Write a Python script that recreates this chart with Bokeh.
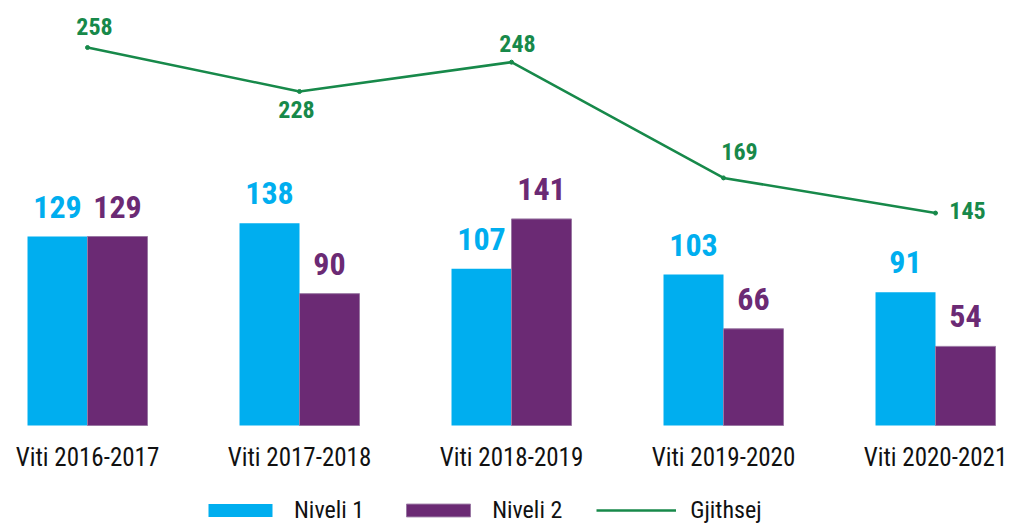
from bokeh.plotting import figure
from bokeh.models import ColumnDataSource, Range1d, FixedTicker, LabelSet, Legend, LegendItem
from bokeh.core.properties import value
from bokeh.embed import file_html
from bokeh.resources import INLINE

# ---- data ----
years = ["Viti 2016-2017", "Viti 2017-2018", "Viti 2018-2019", "Viti 2019-2020", "Viti 2020-2021"]
niveli1 = [129, 138, 107, 103, 91]
niveli2 = [129, 90, 141, 66, 54]
gjithsej = [258, 228, 248, 169, 145]

# ---- style ----
FONT = "Roboto Condensed"
C1 = "#00AEEF"
C2 = "#6B2A74"
CG = "#17894A"
BW = 0.283

idx = list(range(len(years)))
x1 = [i - BW / 2 for i in idx]
x2 = [i + BW / 2 for i in idx]

src1 = ColumnDataSource(dict(x=x1, top=niveli1, lab=[str(v) for v in niveli1]))
src2 = ColumnDataSource(dict(x=x2, top=niveli2, lab=[str(v) for v in niveli2]))
# label offsets for the total line (layout only)
xo = [7, -3, 6, 16, 32]
yo = [13, -27, 10, 18, -6]
srcg = ColumnDataSource(dict(x=idx, y=gjithsej, lab=[str(v) for v in gjithsej], xo=xo, yo=yo))

p = figure(frame_width=1014, frame_height=524, output_backend="svg", toolbar_location=None,
           x_range=Range1d(-0.4104, 4.3726), y_range=Range1d(-67.58, 290.1),
           y_axis_type=None, min_border=0, min_border_left=0, min_border_right=0,
           min_border_top=0, min_border_bottom=0)
p.outline_line_color = None
p.xgrid.visible = False
p.background_fill_color = "white"

r1 = p.vbar(x="x", top="top", bottom=0, width=BW, source=src1, fill_color=C1, line_color=None)
r2 = p.vbar(x="x", top="top", bottom=0, width=BW, source=src2, fill_color=C2, line_color="#9a78a3", line_width=1)
rl = p.line(x="x", y="y", source=srcg, line_color=CG, line_width=2.5)
p.scatter(x="x", y="y", source=srcg, size=4, fill_color=CG, line_color=CG)

lab_kw = dict(text_font=value(FONT), text_font_style="bold", text_align="center", text_baseline="alphabetic")
p.add_layout(LabelSet(x="x", y="top", text="lab", source=src1, y_offset=19,
                      text_color=C1, text_font_size="32px", **lab_kw))
p.add_layout(LabelSet(x="x", y="top", text="lab", source=src2, y_offset=19,
                      text_color=C2, text_font_size="32px", **lab_kw))
p.add_layout(LabelSet(x="x", y="y", text="lab", source=srcg, x_offset="xo", y_offset="yo",
                      text_color=CG, text_font_size="24px", **lab_kw))

ax = p.xaxis[0]
ax.fixed_location = 0
ax.ticker = FixedTicker(ticks=idx)
ax.major_label_overrides = {i: years[i] for i in idx}
ax.axis_line_color = None
ax.major_tick_line_color = None
ax.minor_tick_line_color = None
ax.major_tick_out = 0
ax.major_tick_in = 0
ax.major_label_standoff = 18
ax.major_label_text_font = FONT
ax.major_label_text_font_size = "25px"
ax.major_label_text_color = "#111111"

legend = Legend(items=[LegendItem(label="Niveli 1", renderers=[r1]),
                       LegendItem(label="Niveli 2", renderers=[r2]),
                       LegendItem(label="Gjithsej", renderers=[rl])],
                orientation="horizontal", location=(200, 0),
                glyph_width=80, glyph_height=16, label_standoff=14, spacing=34,
                padding=0, margin=0, border_line_color=None, background_fill_alpha=0,
                label_text_font=FONT, label_text_font_size="24px", label_text_color="#111111")
p.add_layout(legend, "center")

open("out.html", "w").write(file_html(p, INLINE))
